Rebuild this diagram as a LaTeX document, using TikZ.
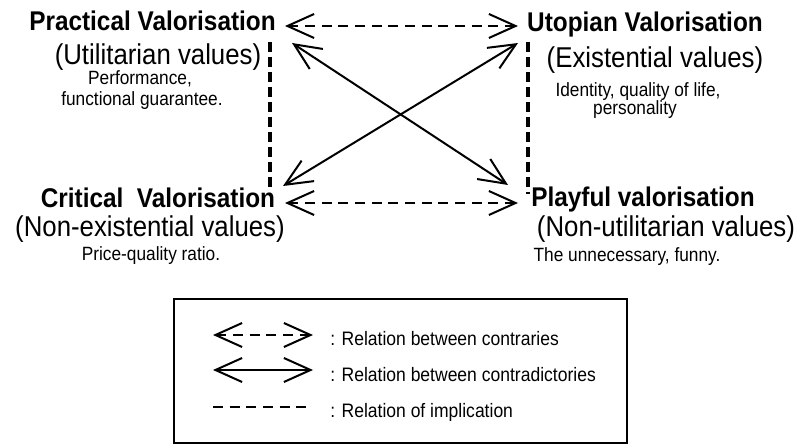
\documentclass[tikz,border=0pt]{standalone}
\usepackage{fontspec}
\setmainfont[FakeStretch=0.9]{Liberation Sans}
\usetikzlibrary{arrows.meta}
\begin{document}
\begin{tikzpicture}[x=0.75pt,y=-0.75pt,
  >={Straight Barb[length=20pt,width=18pt,line width=1.5pt]},
  head/.style={font=\bfseries\fontsize{20.3}{22}\selectfont, inner sep=0pt, anchor=base},
  sub/.style={font=\fontsize{21.5}{24}\selectfont, inner sep=0pt, anchor=base},
  note/.style={font=\fontsize{14.4}{16}\selectfont, inner sep=0pt, anchor=base},
  leg/.style={font=\fontsize{14.6}{16}\selectfont, inner sep=0pt, anchor=base west},
  contrary/.style={<->, line width=1.2pt, dash pattern=on 7.5pt off 5pt},
  contradictory/.style={<->, line width=1.5pt},
  implication/.style={line width=2.6pt, dash pattern=on 7.5pt off 3.75pt},
  legendbox/.style={draw, line width=2pt, inner sep=0pt, minimum width=339.75pt, minimum height=108pt}
]
\useasboundingbox (0,0) rectangle (800,445);

% texts
\node[head] (pv) at (152.5,31) {Practical Valorisation};
\node[sub]  (pvs) at (158,65) {(Utilitarian values)};
\node[note] (pvn1) at (140,85) {Performance,};
\node[note] (pvn2) at (142,106) {functional guarantee.};

\node[head] (uv) at (645,32) {Utopian Valorisation};
\node[sub]  (uvs) at (655,68) {(Existential values)};
\node[note] (uvn1) at (638,97) {Identity, quality of life,};
\node[note] (uvn2) at (635,115) {personality};

\node[head] (cv) at (158,208) {Critical\ \ Valorisation};
\node[sub]  (cvs) at (150,237) {(Non-existential values)};
\node[note] (cvn) at (151,261) {Price-quality ratio.};

\node[head] (plv) at (643,207) {Playful valorisation};
\node[sub]  (plvs) at (666,237) {(Non-utilitarian values)};
\node[note] (plvn) at (627,262) {The unnecessary, funny.};

% connector end points
\coordinate (tl) at (285,26);
\coordinate (tr) at (518,26);
\coordinate (bl) at (285,203);
\coordinate (br) at (518,203);
\coordinate (d1a) at (292,43);
\coordinate (d1b) at (508,185);
\coordinate (d2a) at (518,43);
\coordinate (d2b) at (283,186);
\coordinate (v1a) at (270,42);
\coordinate (v1b) at (270,192);
\coordinate (v2a) at (528,42);
\coordinate (v2b) at (528,194);

\draw[contrary] (tl) -- (tr);
\draw[contrary] (bl) -- (br);
\draw[contradictory] (d1a) -- (d1b);
\draw[contradictory] (d2a) -- (d2b);
\draw[implication] (v1a) -- (v1b);
\draw[implication] (v2a) -- (v2b);

% legend
\node[legendbox] (legend) at (400.5,371) {};
\coordinate (l1a) at (213,335);
\coordinate (l1b) at (313,335);
\coordinate (l2a) at (213,370);
\coordinate (l2b) at (313,370);
\coordinate (l3a) at (213,407);
\coordinate (l3b) at (308,407);
\draw[contrary] (l1a) -- (l1b);
\draw[contradictory] (l2a) -- (l2b);
\draw[line width=1.2pt, dash pattern=on 7.5pt off 5pt] (l3a) -- (l3b);
\node[leg] (t1) at (330,346) {: Relation between contraries};
\node[leg] (t2) at (330,382) {: Relation between contradictories};
\node[leg] (t3) at (330,417) {: Relation of implication};
\end{tikzpicture}
\end{document}
